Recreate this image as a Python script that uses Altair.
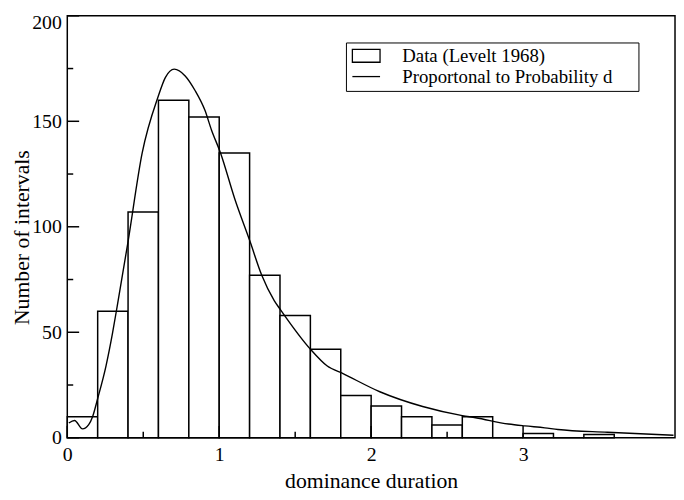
import altair as alt
import pandas as pd

# ---- data ----
bin_start = [0.0, 0.2, 0.4, 0.6, 0.8, 1.0, 1.2, 1.4, 1.6, 1.8, 2.0, 2.2, 2.4, 2.6, 2.8, 3.0, 3.2, 3.4]
bin_end = [0.2, 0.4, 0.6, 0.8, 1.0, 1.2, 1.4, 1.6, 1.8, 2.0, 2.2, 2.4, 2.6, 2.8, 3.0, 3.2, 3.4, 3.6]
counts = [10, 60, 107, 160, 152, 135, 77, 58, 42, 20, 15, 10, 6, 10, 0, 2, 0, 1.5]

curve_x = [0.01, 0.048, 0.10, 0.141, 0.167, 0.20, 0.255, 0.298, 0.33, 0.40, 0.493, 0.597,
           0.646, 0.704, 0.776, 0.841, 0.906, 0.949, 1.008, 1.102, 1.203, 1.28, 1.362,
           1.405, 1.601, 1.709, 1.818, 2.057, 2.339, 2.60, 2.687, 2.904, 3.012, 3.143,
           3.229, 3.555, 3.99]
curve_y = [7.0, 8.2, 4.2, 6.2, 10.1, 18.6, 34.1, 49.7, 63.0, 93.0, 135.0, 161.5,
           170.8, 174.7, 171.5, 164.6, 155.2, 145.9, 135.1, 113.3, 93.0, 77.0, 65.0,
           60.5, 41.9, 34.1, 30.3, 21.8, 14.8, 10.5, 9.5, 6.5, 5.6, 4.7,
           3.9, 2.6, 1.2]

x_major = [0, 1, 2, 3]
x_minor = [0.5, 1.5, 2.5]
y_major = [0, 50, 100, 150, 200]
y_minor = [25, 75, 125, 175]
legend_labels = ["Data (Levelt 1968)", "Proportonal to Probability d"]

FONT = "Liberation Serif"
W, H = 615, 427

bars_df = pd.DataFrame({"start": bin_start, "end": bin_end, "count": counts})
curve_df = pd.DataFrame({"x": curve_x, "y": curve_y})

xs = alt.Scale(domain=[0, 4], nice=False, zero=False)
ys = alt.Scale(domain=[0, 200], nice=False)

x_axis = alt.Axis(
    values=x_major, title="dominance duration", ticks=False, domain=False, grid=False,
    labelPadding=7, labelFontSize=20, labelFont=FONT, labelColor="black", labelFlush=False,
    titleFontSize=22, titleFont=FONT, titleFontWeight="normal", titleColor="black",
    titleBaseline="alphabetic", titleY=50)
y_axis = alt.Axis(
    values=y_major, title="Number of intervals", ticks=False, domain=False, grid=False,
    labelPadding=6, labelFontSize=20, labelFont=FONT, labelColor="black", labelFlush=False,
    labelOffset={"condition": {"test": "datum.value == 200", "value": 7}, "value": 0},
    titleFontSize=22, titleFont=FONT, titleFontWeight="normal", titleColor="black",
    titleAngle=270, titleBaseline="alphabetic", titleAlign="center", titleX=-39, titleY=224)

bars = alt.Chart(bars_df).mark_rect(fill="white", stroke="black", strokeWidth=1.5).encode(
    x=alt.X("start:Q", scale=xs, axis=x_axis),
    x2="end:Q",
    y=alt.Y("count:Q", scale=ys, axis=y_axis),
    y2=alt.datum(0),
)

line = alt.Chart(curve_df).mark_line(color="black", strokeWidth=1.4, interpolate="monotone").encode(
    x=alt.X("x:Q", scale=xs, axis=x_axis),
    y=alt.Y("y:Q", scale=ys, axis=y_axis),
)

ymaj = alt.Chart(pd.DataFrame({"v": y_major})).mark_rule(color="black", strokeWidth=1.5).encode(
    y=alt.Y("v:Q", scale=ys, axis=y_axis), x=alt.value(0), x2=alt.value(12))
ymin = alt.Chart(pd.DataFrame({"v": y_minor})).mark_rule(color="black", strokeWidth=1.5).encode(
    y=alt.Y("v:Q", scale=ys, axis=y_axis), x=alt.value(0), x2=alt.value(6))
xmaj = alt.Chart(pd.DataFrame({"v": x_major})).mark_rule(color="black", strokeWidth=1.5).encode(
    x=alt.X("v:Q", scale=xs, axis=x_axis), y=alt.value(H), y2=alt.value(H - 12))
xmin = alt.Chart(pd.DataFrame({"v": x_minor})).mark_rule(color="black", strokeWidth=1.5).encode(
    x=alt.X("v:Q", scale=xs, axis=x_axis), y=alt.value(H), y2=alt.value(H - 6))

rect_path = "M-2.8,-1.3H2.8V1.3H-2.8Z"
line_path = "M-2.8,0H2.8"

leg = alt.Chart(pd.DataFrame({"series": legend_labels})).mark_point(
    filled=False, opacity=0, color="black").encode(
    shape=alt.Shape("series:N", scale=alt.Scale(domain=legend_labels, range=[rect_path, line_path]),
                    legend=alt.Legend(
                        orient="none", legendX=282, legendY=27,
                        title=" ", titleOrient="right", titlePadding=22,
                        padding=4, strokeColor="black",
                        symbolSize=100, symbolStrokeWidth=1.3, symbolStrokeColor="black",
                        symbolFillColor="white", symbolOpacity=1, symbolOffset=7,
                        labelOffset=27, labelFontSize=19, labelFont=FONT, labelColor="black",
                        labelLimit=400, rowPadding=1)),
)

chart = alt.layer(bars, line, ymaj, ymin, xmaj, xmin, leg).properties(
    width=W, height=H,
    autosize=alt.AutoSizeParams(type="none"),
    padding={"left": 60, "top": 5, "right": 1, "bottom": 52},
    background="white",
).configure_view(stroke="black", strokeWidth=1.5)

chart.save("out.html", embed_options={"renderer": "svg", "actions": False})
